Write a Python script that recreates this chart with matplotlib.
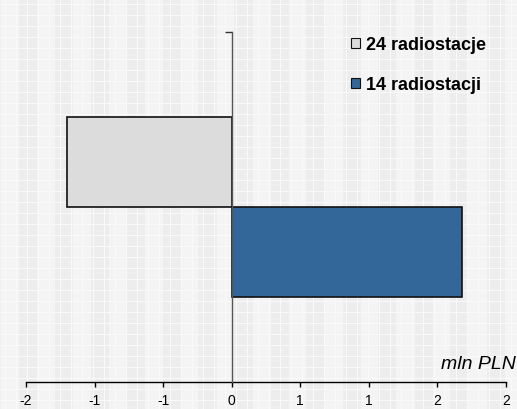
import numpy as np
import matplotlib
matplotlib.use("Agg")
import matplotlib.pyplot as plt
from matplotlib.patches import Patch

plt.rcParams['font.family'] = ['Liberation Sans', 'DejaVu Sans']

# ---- data ----
series_names = ["24 radiostacje", "14 radiostacji"]
series_values = [-1.20, 1.68]
series_colors = ["#dcdcdc", "#336699"]
tick_values = [-1.5, -1.0, -0.5, 0.0, 0.5, 1.0, 1.5, 2.0]
tick_labels = ["-2", "-1", "-1", "0", "1", "1", "2", "2"]
unit_label = "mln PLN"

W, H = 517, 410
fig = plt.figure(figsize=(W / 100, H / 100), dpi=100)

# textured light-grey background
yy, xx = np.mgrid[0:H, 0:W]
base = 0.945 + 0.012 * np.sign(np.sin(2 * np.pi * xx / 36.0))
img = base.copy()
img[(xx % 11) == 5] = 0.98
img[(yy % 11) == 5] = 0.98
img = np.clip(img, 0, 1)
fig.figimage(np.dstack([img, img, img]), xo=0, yo=0, zorder=-10)

ax = fig.add_axes([26 / W, (H - 383) / H, 480 / W, 350 / H])
ax.set_zorder(5)
ax.patch.set_alpha(0)

ypos = [0.25, -0.25]
for y, v, c, n in zip(ypos, series_values, series_colors, series_names):
    ax.barh(y, v, height=0.5, color=c, edgecolor="#111111", linewidth=1.2, label=n, zorder=3)

ax.set_xlim(tick_values[0], tick_values[-1])
ax.set_ylim(-0.972, 0.972)

ax.spines['top'].set_visible(False)
ax.spines['right'].set_visible(False)
ax.spines['left'].set_position(('data', 0))
ax.spines['left'].set_color("#555555")
ax.spines['left'].set_linewidth(1.0)
ax.spines['left'].set_zorder(4)
ax.spines['bottom'].set_color("#000000")
ax.spines['bottom'].set_linewidth(1.0)

ax.set_xticks(tick_values)
ax.set_xticklabels(tick_labels, fontsize=10)
ax.tick_params(axis='x', direction='out', length=3.6, width=1, pad=4.5)
ax.set_yticks([0.972])
ax.set_yticklabels([])
ax.tick_params(axis='y', direction='out', length=5, width=1, color="#333333")

handles = [Patch(facecolor=c, edgecolor="#111111", linewidth=0.8) for c in series_colors]
leg = ax.legend(handles, series_names, loc='upper left',
                bbox_to_anchor=(309 / 480, 1 + 12 / 350),
                frameon=False, handlelength=0.5, handleheight=0.5, handletextpad=0.33,
                labelspacing=1.27, borderpad=0.4,
                prop={'weight': 'bold', 'size': 13})

ax.text((516 - 26) / 480, (383 - 369) / 350, unit_label, transform=ax.transAxes,
        ha='right', va='baseline', fontsize=14, style='italic')

fig.savefig("out.png", dpi=100)
